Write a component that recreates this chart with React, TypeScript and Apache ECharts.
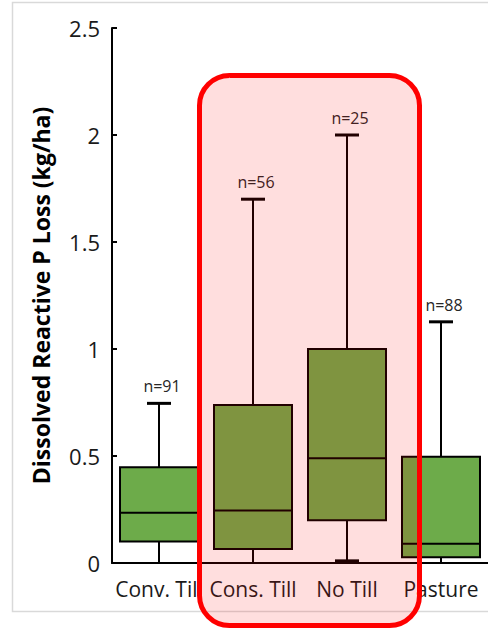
import React, { useEffect, useRef } from "react";
import * as echarts from "echarts";

const categories = ["Conv. Till", "Cons. Till", "No Till", "Pasture"];
const whiskerMin = [0, 0, 0.01, 0];
const q1 = [0.1, 0.065, 0.2, 0.027];
const median = [0.235, 0.245, 0.49, 0.09];
const q3 = [0.447, 0.738, 1.0, 0.497];
const whiskerMax = [0.746, 1.7, 2.0, 1.127];
const counts = ["n=91", "n=56", "n=25", "n=88"];
const yTicks = [0, 0.5, 1, 1.5, 2, 2.5];

const FONT = "'Open Sans', 'Noto Sans', sans-serif";

export default function App() {
  const ref = useRef<HTMLDivElement>(null);
  useEffect(() => {
    const chart = echarts.init(ref.current!, undefined, { renderer: "svg" });
    const data = categories.map((_, i) => [
      i,
      whiskerMin[i],
      q1[i],
      median[i],
      q3[i],
      whiskerMax[i],
      i,
    ]);
    const renderItem = (params: any, api: any) => {
      const idx = api.value(0);
      const pMin = api.coord([idx, api.value(1)]);
      const pQ1 = api.coord([idx, api.value(2)]);
      const pMed = api.coord([idx, api.value(3)]);
      const pQ3 = api.coord([idx, api.value(4)]);
      const pMax = api.coord([idx, api.value(5)]);
      const cx = pMin[0];
      const bw = 78;
      const cap = 24;
      const stroke = "#000";
      const children: any[] = [
        {
          type: "line",
          shape: { x1: cx, y1: pQ3[1], x2: cx, y2: pMax[1] },
          style: { stroke, lineWidth: 2 },
        },
        {
          type: "line",
          shape: { x1: cx, y1: pQ1[1], x2: cx, y2: pMin[1] },
          style: { stroke, lineWidth: 2 },
        },
        {
          type: "line",
          shape: { x1: cx - cap / 2, y1: pMax[1], x2: cx + cap / 2, y2: pMax[1] },
          style: { stroke, lineWidth: 3 },
        },
        {
          type: "rect",
          shape: { x: cx - bw / 2, y: pQ3[1], width: bw, height: pQ1[1] - pQ3[1] },
          style: { fill: "#6DAB4A", stroke, lineWidth: 2 },
        },
        {
          type: "line",
          shape: { x1: cx - bw / 2, y1: pMed[1], x2: cx + bw / 2, y2: pMed[1] },
          style: { stroke, lineWidth: 2 },
        },
        {
          type: "text",
          x: cx + 3,
          y: pMax[1] - 9,
          style: {
            text: counts[api.value(6)],
            fill: "#262626",
            fontSize: 16,
            fontFamily: FONT,
            align: "center",
            verticalAlign: "bottom",
          },
        },
      ];
      if (api.value(1) > 0) {
        children.push({
          type: "line",
          shape: { x1: cx - cap / 2, y1: pMin[1], x2: cx + cap / 2, y2: pMin[1] },
          style: { stroke, lineWidth: 3 },
        });
      }
      return { type: "group", children };
    };
    chart.setOption({
      animation: false,
      backgroundColor: "#ffffff",
      grid: { left: 112, right: 0, top: 28, bottom: 67, containLabel: false },
      xAxis: {
        type: "category",
        data: categories,
        boundaryGap: true,
        axisLine: { show: true, lineStyle: { color: "#000", width: 2 } },
        axisTick: { show: false },
        axisLabel: {
          fontSize: 21,
          fontFamily: FONT,
          color: "#1a1a1a",
          margin: 15,
          interval: 0,
        },
        splitLine: { show: false },
      },
      yAxis: {
        type: "value",
        min: 0,
        max: 2.5,
        interval: 0.5,
        axisLine: { show: true, lineStyle: { color: "#000", width: 2 } },
        axisTick: { show: true, inside: true, length: 5, lineStyle: { color: "#000", width: 2 } },
        axisLabel: {
          fontSize: 22,
          fontFamily: FONT,
          color: "#1a1a1a",
          margin: 12,
          formatter: (v: number) => (yTicks.includes(v) ? String(v) : ""),
        },
        splitLine: { show: false },
        name: "Dissolved Reactive P Loss (kg/ha)",
        nameLocation: "middle",
        nameGap: 60,
        nameRotate: 90,
        nameTextStyle: {
          fontSize: 23,
          fontWeight: "bold",
          fontFamily: FONT,
          color: "#000",
        },
      },
      series: [
        {
          type: "custom",
          renderItem,
          data,
          encode: { x: 0, y: [1, 2, 3, 4, 5] },
          z: 2,
        },
      ],
      graphic: [
        {
          type: "rect",
          z: -10,
          shape: { x: 12.5, y: 2.5, width: 490, height: 609 },
          style: { fill: "none", stroke: "#d9d9d9", lineWidth: 1.5 },
          silent: true,
        },
        {
          type: "rect",
          z: 100,
          shape: { x: 199.5, y: 75.5, width: 220, height: 550, r: 30 },
          style: { fill: "rgba(255,0,0,0.13)", stroke: "#ff0000", lineWidth: 5 },
          silent: true,
        },
      ],
    });
    return () => chart.dispose();
  }, []);
  return (
    <div
      ref={ref}
      style={{ position: "fixed", left: 0, top: 0, width: 488, height: 630 }}
    />
  );
}
